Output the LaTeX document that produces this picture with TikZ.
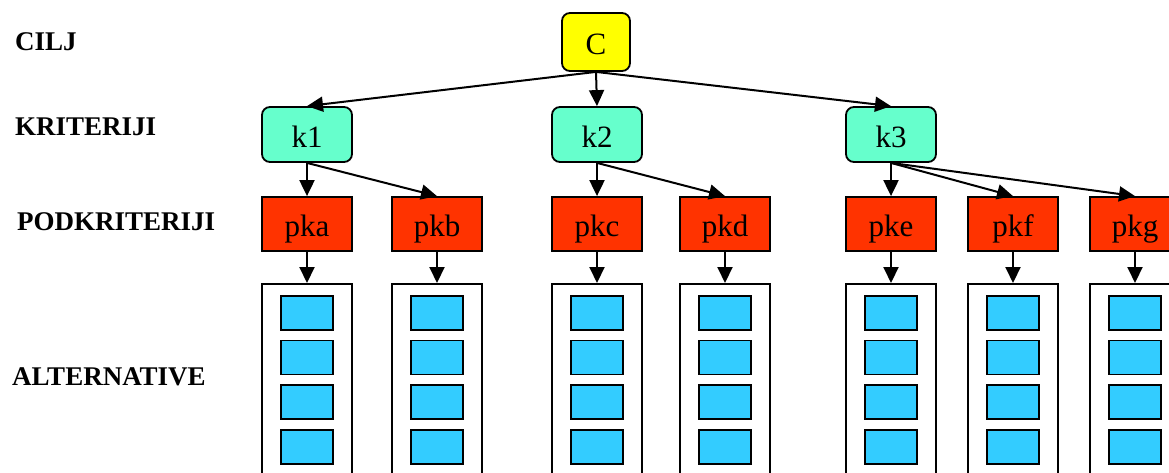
\documentclass[tikz,border=0pt]{standalone}
\usepackage{fontspec}
\setmainfont{Liberation Serif}
\usetikzlibrary{arrows.meta}

\definecolor{ciljyellow}{HTML}{FFFF00}
\definecolor{kritgreen}{HTML}{66FFCC}
\definecolor{podred}{HTML}{FF3300}
\definecolor{altblue}{HTML}{33CCFF}

\tikzset{
    box/.style={draw, line width=1.8pt, inner sep=0pt,
        font=\fontsize{31}{31}\selectfont, text height=30pt, text depth=5pt},
    cilj/.style={box, fill=ciljyellow, rounded corners=8pt, minimum width=68pt, minimum height=58pt},
    krit/.style={box, fill=kritgreen, rounded corners=8pt, minimum width=90pt, minimum height=55pt},
    podkrit/.style={box, fill=podred, minimum width=90pt, minimum height=54pt},
    altbox/.style={draw, line width=1.8pt, minimum width=90pt, minimum height=200pt, anchor=north},
    alt/.style={draw, line width=1.8pt, fill=altblue, inner sep=0pt, minimum width=52pt, minimum height=34pt},
    level/.style={font=\bfseries\fontsize{27}{27}\selectfont, anchor=base west, inner sep=0pt},
    arr/.style={-{Triangle[length=16pt, width=15pt]}, line width=2pt}
}

\begin{document}
\begin{tikzpicture}[x=1pt, y=-1pt]
    \useasboundingbox (0, 0) rectangle (1169, 472);
    \clip (0, 0) rectangle (1169, 472);

    % levels
    \node[level] (lcilj) at (15, 50) {CILJ};
    \node[level] (lkrit) at (15, 135) {KRITERIJI};
    \node[level] (lpod) at (17, 230) {PODKRITERIJI};
    \node[level] (lalt) at (12, 385) {ALTERNATIVE};

    % goal and criteria
    \node[cilj] (c) at (596, 42) {C};
    \node[krit] (k1) at (307, 134.5) {k1};
    \node[krit] (k2) at (597, 134.5) {k2};
    \node[krit] (k3) at (891, 134.5) {k3};

    % subcriteria with their alternatives
    \foreach \n/\x in {a/307, b/437, c/597, d/725, e/891, f/1013, g/1135} {
        \node[podkrit] (pk\n) at (\x, 224) {pk\n};
        \node[altbox] (alt\n) at (\x, 283) {};
        \foreach \i in {1,...,4}
            \node[alt] (alt\n\i) at (\x, 268 + 44.7*\i) {};
        \draw[arr] (pk\n.south) -- (alt\n.north);
    }

    \foreach \k in {k1, k2, k3}
        \draw[arr] (c.south) -- (\k.north);
    \draw[arr] (k1.south) -- (pka.north);
    \draw[arr] (k1.south) -- (pkb.north);
    \draw[arr] (k2.south) -- (pkc.north);
    \draw[arr] (k2.south) -- (pkd.north);
    \draw[arr] (k3.south) -- (pke.north);
    \draw[arr] (k3.south) -- (pkf.north);
    \draw[arr] (k3.south) -- (pkg.north);
\end{tikzpicture}
\end{document}
